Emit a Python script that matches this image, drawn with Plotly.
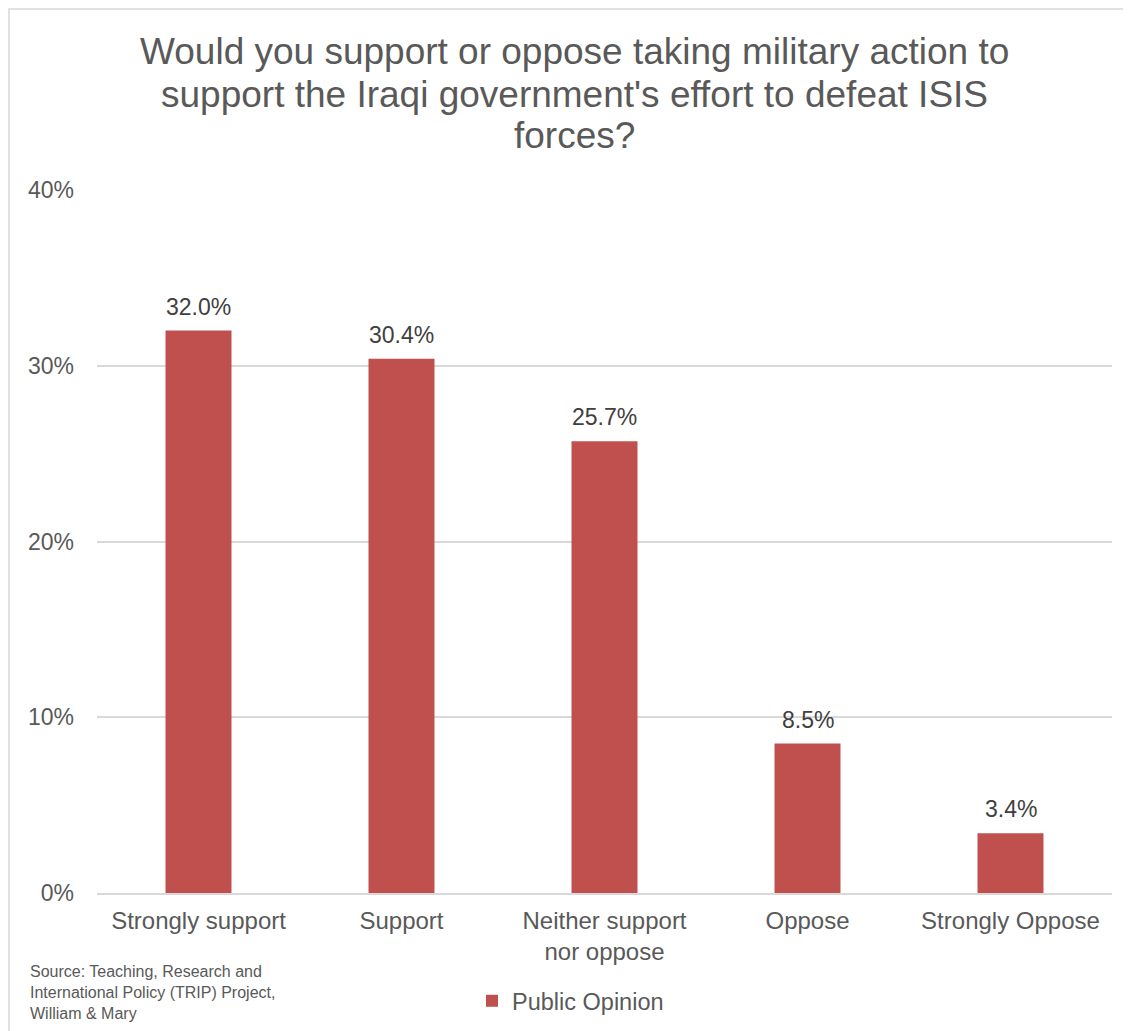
import plotly.graph_objects as go

categories = ["Strongly support", "Support", "Neither support<br>nor oppose", "Oppose", "Strongly Oppose"]
values = [32.0, 30.4, 25.7, 8.5, 3.4]
labels = ["32.0%", "30.4%", "25.7%", "8.5%", "3.4%"]
tick_vals = [0, 10, 20, 30, 40]
tick_text = ["0%", "10%", "20%", "30%", "40%"]
title_lines = [
    "Would you support or oppose taking military action to",
    "support the Iraqi government's effort to defeat ISIS",
    "forces?",
]

FONT = "Liberation Sans, Arial, sans-serif"
TXT = "#595959"

# figure-pixel layout (page body adds 8px offset)
L, R, T, B = 89, 27, 182, 146
W, H = 1131, 1031
PW, PH = W - L - R, H - T - B


def px(x):
    return (x - L) / PW


def py(y):
    return (H - B - y) / PH


fig = go.Figure()
fig.add_trace(go.Bar(
    x=categories, y=values, name="Public Opinion",
    marker=dict(color="#C0504D", line=dict(width=0)),
    width=0.325,
))

for c, v, t in zip(categories, values, labels):
    fig.add_annotation(x=c, y=v, text=t, showarrow=False, yanchor="bottom", yshift=9,
                       font=dict(family=FONT, size=23, color="#404040"))

fig.update_layout(
    width=W, height=H,
    margin=dict(l=L, r=R, t=T, b=B),
    paper_bgcolor="white", plot_bgcolor="white",
    font=dict(family=FONT, color=TXT),
    showlegend=True,
    legend=dict(orientation="h", x=px(464), xanchor="left", y=py(993), yanchor="middle",
                font=dict(family=FONT, size=23.5, color=TXT), itemwidth=30,
                bgcolor="rgba(0,0,0,0)"),
)
fig.update_xaxes(
    showline=True, linecolor="#D9D9D9", linewidth=2,
    ticks="", tickfont=dict(family=FONT, size=24, color=TXT),
    showgrid=False, ticklabelstandoff=5,
)
fig.update_yaxes(
    range=[0, 40], tickvals=tick_vals, ticktext=tick_text,
    showgrid=True, gridcolor="#D9D9D9", gridwidth=1.5,
    zeroline=False, showline=False, ticks="",
    tickfont=dict(family=FONT, size=23, color=TXT),
    ticklabelstandoff=22,
)

for line, yc in zip(title_lines, [44, 86.5, 127]):
    fig.add_annotation(
        text=line, xref="paper", yref="paper", x=px(566.5), y=py(yc),
        xanchor="center", yanchor="middle", showarrow=False,
        font=dict(family=FONT, size=37, color=TXT),
    )
fig.add_annotation(
    text="Source: Teaching, Research and<br>International Policy (TRIP) Project,<br>William & Mary",
    xref="paper", yref="paper", x=px(20), y=py(984), xanchor="left", yanchor="middle",
    showarrow=False, font=dict(family=FONT, size=16, color=TXT), align="left",
)
fig.add_shape(type="rect", xref="paper", yref="paper",
              x0=px(1), x1=px(1140), y0=py(1040), y1=py(1),
              line=dict(color="#D9D9D9", width=1.5), fillcolor="rgba(0,0,0,0)", layer="below")

fig.write_html("out.html")
